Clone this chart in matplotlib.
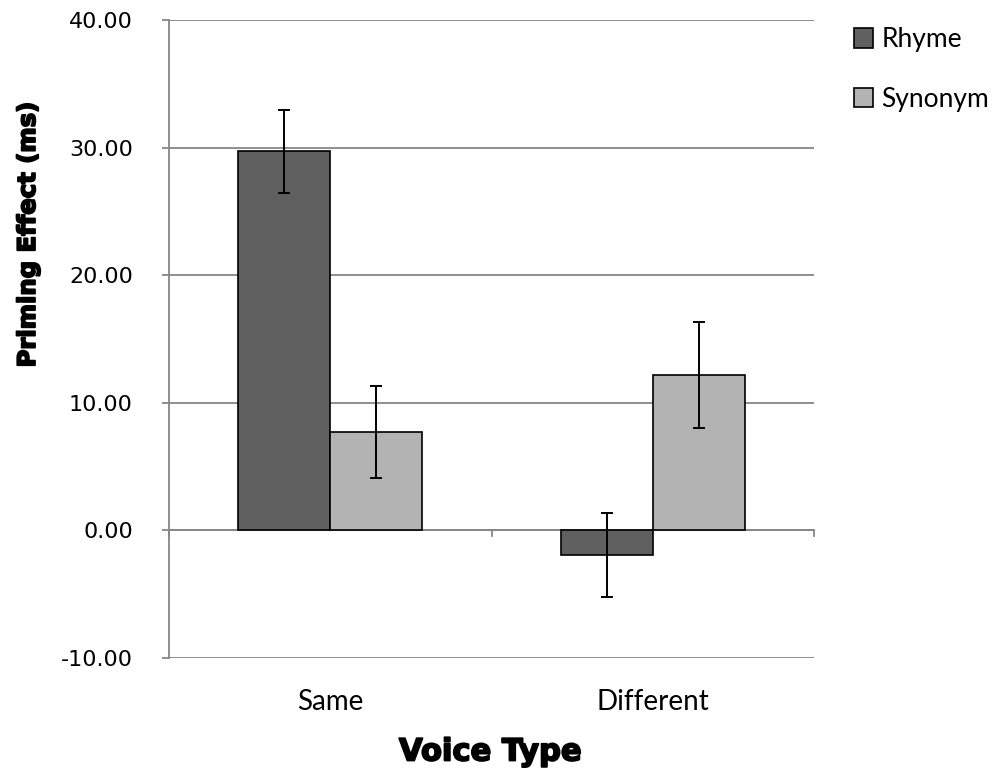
import matplotlib
matplotlib.use("Agg")
import matplotlib.pyplot as plt
import matplotlib.patheffects as pe
import numpy as np

categories = ["Same", "Different"]
series_names = ["Rhyme", "Synonym"]
rhyme = [29.7, -1.9]
synonym = [7.7, 12.15]
rhyme_err = [3.25, 3.3]
synonym_err = [3.6, 4.15]
yticks = [-10, 0, 10, 20, 30, 40]

fig = plt.figure(figsize=(10.07, 7.71), dpi=100)
ax = fig.add_axes([169/1007, 1-658/771, (814-169)/1007, (658-20)/771])

x = np.arange(len(categories))
w = 0.286
grid_c = "#878787"

err_kw = dict(ecolor="black", elinewidth=1.4, capsize=4.3, capthick=1.4)
ax.bar(x - w/2, rhyme, w, color="#606060", edgecolor="black", linewidth=1.2,
       yerr=rhyme_err, error_kw=err_kw, label=series_names[0], zorder=3)
ax.bar(x + w/2, synonym, w, color="#b3b3b3", edgecolor="black", linewidth=1.2,
       yerr=synonym_err, error_kw=err_kw, label=series_names[1], zorder=3)

ax.set_xlim(-0.5, 1.5)
ax.set_ylim(-10, 40)
ax.set_yticks(yticks)
ax.set_yticklabels([f"{v:.2f}" for v in yticks], fontsize=16, family="DejaVu Sans")
ax.yaxis.grid(True, color=grid_c, linewidth=1.3, zorder=0)
ax.set_axisbelow(True)

for s in ["top", "right", "bottom"]:
    ax.spines[s].set_visible(False)
ax.spines["left"].set_color(grid_c)
ax.spines["left"].set_linewidth(1.3)
ax.tick_params(axis="y", length=5, color=grid_c, width=1.3, pad=21)

# x axis at zero with boundary ticks
ax.axhline(0, color=grid_c, linewidth=1.3, zorder=2)
ax.set_xticks(x)
ax.set_xticklabels(categories, fontsize=20, family="Lato")
ax.tick_params(axis="x", length=0, pad=22)
for b in [-0.5, 0.5, 1.5]:
    ax.plot([b, b], [0, -0.45], color=grid_c, linewidth=1.3, clip_on=False, zorder=2)

heavy = [pe.withStroke(linewidth=1.3, foreground="black")]
yl = fig.text(28/1007, 1-235/771, "Priming Effect (ms)", fontsize=17.5, fontweight="bold",
              family="DejaVu Sans", rotation=90, ha="center", va="center")
yl.set_path_effects(heavy)
xl = fig.text(490/1007, 1-752/771, "Voice Type", fontsize=22, fontweight="bold",
              family="DejaVu Sans", ha="center", va="center")
xl.set_path_effects(heavy)

leg = ax.legend(loc="upper left", bbox_to_anchor=(1.045, 1.005), frameon=False,
                prop={"family": "Lato", "size": 19}, handlelength=0.75, handleheight=0.75,
                handletextpad=0.3, labelspacing=1.3, borderaxespad=0)

fig.savefig("out.png", dpi=100)
